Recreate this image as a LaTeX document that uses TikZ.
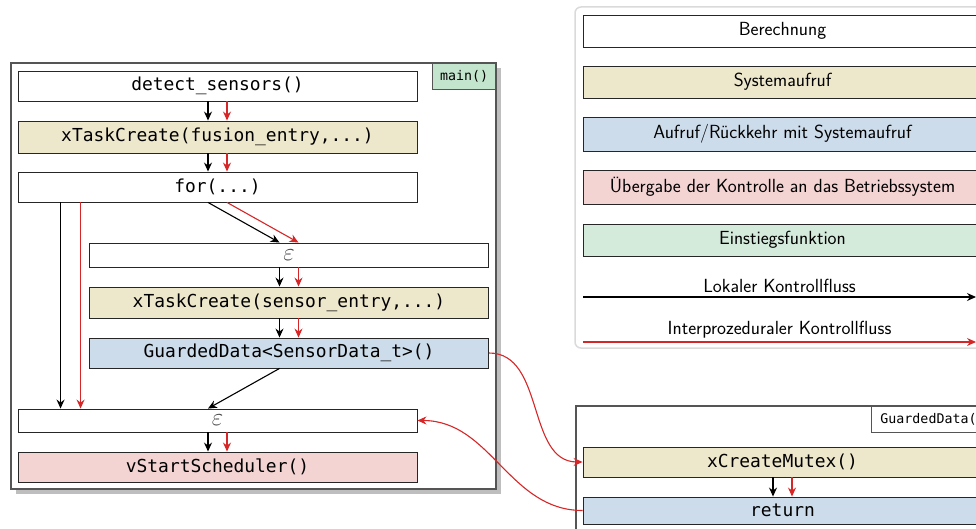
\documentclass[tikz,border=0pt]{standalone}
\usepackage{fontspec}
\setmonofont{DejaVu Sans Mono}
\usetikzlibrary{arrows.meta}

\definecolor{flowred}{HTML}{D62728}
\definecolor{sysfill}{HTML}{EDE7CB}
\definecolor{callfill}{HTML}{CCDCEA}
\definecolor{osfill}{HTML}{F4D3D3}
\definecolor{entryfill}{HTML}{D4EBDC}
\definecolor{tagfill}{HTML}{C4E5CD}
\definecolor{frameline}{HTML}{555555}
\definecolor{shadowgray}{HTML}{BEBEBE}
\definecolor{legendline}{HTML}{DADADA}

\tikzset{
  code/.style={font=\fontsize{17.9}{20}\selectfont\ttfamily},
  box/.style={draw=black!85, line width=0.9pt, minimum width=399pt,
              inner sep=0pt, anchor=center},
  comp/.style={box, fill=white},
  sys/.style={box, fill=sysfill},
  callret/.style={box, fill=callfill},
  osbox/.style={box, fill=osfill},
  entrybox/.style={box, fill=entryfill},
  epsbox/.style={box, fill=white, text=black!72,
                 font=\fontsize{25}{26}\selectfont},
  tag/.style={draw=frameline, line width=0.9pt, inner sep=0pt,
              font=\fontsize{13.3}{14}\selectfont\ttfamily},
  frame/.style={draw=frameline, line width=1.3pt, fill=white},
  legendtext/.style={font=\fontsize{19}{21}\selectfont\sffamily},
  flow/.style={line width=1.1pt, black,
               -{Stealth[length=9pt,width=8pt,inset=3pt]}},
  iflow/.style={line width=1.1pt, flowred,
               -{Stealth[length=9pt,width=8pt,inset=3pt]}},
}

\begin{document}
\begin{tikzpicture}[x=1pt, y=-1pt]
\useasboundingbox (0,0) rectangle (976,529);
\clip (0,0) rectangle (976,529);

% ---------- legend ----------
\draw[legendline, line width=1.5pt, rounded corners=6pt]
  (575,7) rectangle (995,348);
\node[comp, minimum height=32pt, legendtext] (lcomp) at (782.5,31) {Berechnung};
\node[sys, minimum height=32pt, legendtext] (lsys) at (782.5,82) {Systemaufruf};
\node[callret, minimum height=34pt, legendtext] (lcall) at (782.5,134)
  {Aufruf/Rückkehr mit Systemaufruf};
\node[osbox, minimum height=34pt, legendtext] (los) at (782.5,187)
  {Übergabe der Kontrolle an das Betriebssystem};
\node[entrybox, minimum height=32pt, legendtext] (lentry) at (782.5,240)
  {Einstiegsfunktion};
\coordinate (la) at (583,297);
\coordinate (lb) at (976,297);
\draw[flow] (la) -- (lb)
  node[midway, above=0pt, legendtext, text=black] {Lokaler Kontrollfluss};
\coordinate (ra) at (583,342);
\coordinate (rb) at (976,342);
\draw[iflow] (ra) -- (rb)
  node[midway, above=0pt, legendtext, text=black] {Interprozeduraler Kontrollfluss};

% ---------- main() ----------
\fill[shadowgray] (16,68) rectangle (501,494);
\draw[frame] (11,63) rectangle (496,489);
\node[tag, fill=tagfill, minimum width=63pt, minimum height=26pt,
      anchor=north east] (maintag) at (496,63) {main()};

\node[comp, minimum height=30pt, code] (detect) at (217.5,86) {detect\_sensors()};
\node[sys, minimum height=32pt, code] (fusion) at (217.5,137)
  {xTaskCreate(fusion\_entry,...)};
\node[comp, minimum height=30pt, code] (loop) at (217.5,187) {for(...)};
\node[epsbox, minimum height=24pt] (eps1) at (289,255) {$\varepsilon$};
\node[sys, minimum height=31pt, code] (sensor) at (289,302.5)
  {xTaskCreate(sensor\_entry,...)};
\node[callret, minimum height=30pt, code] (guard) at (289,353)
  {GuardedData<SensorData\_t>()};
\node[epsbox, minimum height=23pt] (eps2) at (217.5,420.5) {$\varepsilon$};
\node[osbox, minimum height=30pt, code] (sched) at (217.5,467)
  {vStartScheduler()};

% local and interprocedural flow inside main()
\foreach \a/\b in {detect/fusion, fusion/loop, loop/eps1, eps1/sensor,
                   sensor/guard, eps2/sched} {
  \draw[flow] ([xshift=-9.5pt]\a.south) -- ([xshift=-9.5pt]\b.north);
  \draw[iflow] ([xshift=9.5pt]\a.south) -- ([xshift=9.5pt]\b.north);
}
\draw[flow] ([xshift=43pt]loop.south west) -- ([xshift=43pt]eps2.north west);
\draw[iflow] ([xshift=63pt]loop.south west) -- ([xshift=63pt]eps2.north west);
\draw[flow] ([xshift=-9.5pt]guard.south) -- ([xshift=-9.5pt]eps2.north);

% ---------- GuardedData() ----------
\draw[frame] (576,406) rectangle (1000,560);
\node[tag, fill=white, minimum width=130pt, minimum height=26pt,
      anchor=north west, text width=124pt, align=left] (gdtag) at (871,406)
  {\hspace*{6pt}GuardedData()};
\node[sys, minimum height=30pt, code] (mutex) at (782.5,462) {xCreateMutex()};
\node[callret, minimum height=27pt, code] (ret) at (782.5,510.5) {return};
\draw[flow] ([xshift=-9.5pt]mutex.south) -- ([xshift=-9.5pt]ret.north);
\draw[iflow] ([xshift=9.5pt]mutex.south) -- ([xshift=9.5pt]ret.north);

% call into GuardedData() and return to main()
\draw[iflow] (guard.east) to[out=0, in=180] (mutex.west);
\draw[iflow] (ret.west) to[out=180, in=0] (eps2.east);
\end{tikzpicture}
\end{document}
